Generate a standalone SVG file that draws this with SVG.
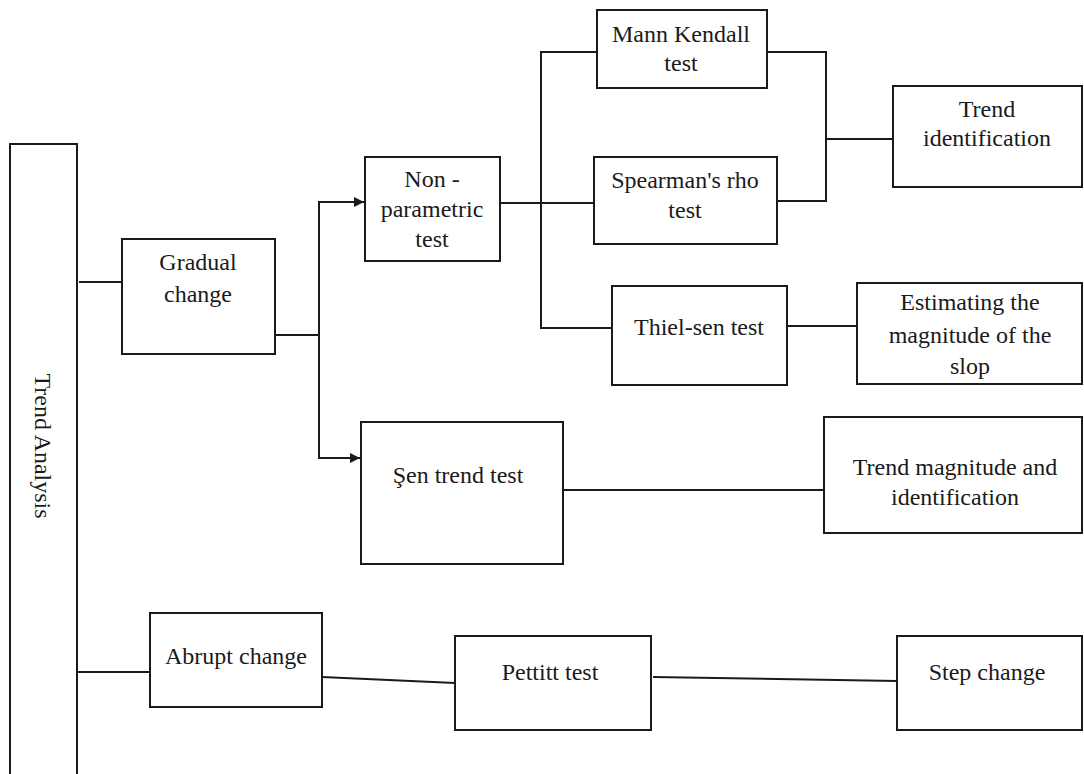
<svg xmlns="http://www.w3.org/2000/svg" width="1084" height="774" viewBox="0 0 1084 774">
<defs>
<style>
.box{fill:#fff;stroke:#1a1a1a;stroke-width:2}
.t{font-family:"Liberation Serif","Times New Roman",serif;font-size:24px;fill:#1a1a1a;text-anchor:middle}
.c{fill:none;stroke:#1a1a1a;stroke-width:2}
</style>
<marker id="arr" viewBox="0 0 10 10" refX="10" refY="5" markerWidth="5" markerHeight="5" orient="auto" markerUnits="strokeWidth">
<path d="M0,0 L10,5 L0,10 z" fill="#1a1a1a"/>
</marker>
</defs>
<rect width="1084" height="774" fill="#fff"/>
<g id="connectors">
<line class="c" x1="79" y1="282" x2="122" y2="282"/>
<line class="c" x1="77" y1="672" x2="150" y2="672"/>
<polyline class="c" points="275,335 319,335"/>
<polyline class="c" points="319,458 319,202 364,202" marker-end="url(#arr)"/>
<polyline class="c" points="319,335 319,458 360,458" marker-end="url(#arr)"/>
<line class="c" x1="500" y1="203" x2="594" y2="203"/>
<polyline class="c" points="597,52 541,52 541,328 612,328"/>
<polyline class="c" points="767,52 826,52 826,201 777,201"/>
<line class="c" x1="826" y1="139" x2="893" y2="139"/>
<line class="c" x1="787" y1="326" x2="857" y2="326"/>
<line class="c" x1="563" y1="490" x2="824" y2="490"/>
<line class="c" x1="322" y1="677" x2="455" y2="683"/>
<line class="c" x1="653" y1="677" x2="897" y2="681"/>
</g>
<g id="trend-analysis">
<rect class="box" x="10" y="144" width="67" height="640"/>
<text class="t" transform="translate(35,446) rotate(90)">Trend Analysis</text>
</g>
<g id="gradual-change">
<rect class="box" x="122" y="239" width="153" height="115"/>
<text class="t" x="198" y="270">Gradual</text>
<text class="t" x="198" y="302">change</text>
</g>
<g id="non-parametric">
<rect class="box" x="365" y="157" width="135" height="104"/>
<text class="t" x="432" y="187">Non -</text>
<text class="t" x="432" y="217">parametric</text>
<text class="t" x="432" y="247">test</text>
</g>
<g id="mann-kendall">
<rect class="box" x="597" y="10" width="170" height="78"/>
<text class="t" x="681" y="42">Mann Kendall</text>
<text class="t" x="681" y="71">test</text>
</g>
<g id="spearman">
<rect class="box" x="594" y="157" width="183" height="87"/>
<text class="t" x="685" y="188">Spearman's rho</text>
<text class="t" x="685" y="218">test</text>
</g>
<g id="trend-identification">
<rect class="box" x="893" y="86" width="189" height="101"/>
<text class="t" x="987" y="117">Trend</text>
<text class="t" x="987" y="146">identification</text>
</g>
<g id="thiel-sen">
<rect class="box" x="612" y="286" width="175" height="99"/>
<text class="t" x="699" y="335">Thiel-sen test</text>
</g>
<g id="estimating">
<rect class="box" x="857" y="283" width="225" height="101"/>
<text class="t" x="970" y="310">Estimating the</text>
<text class="t" x="970" y="343">magnitude of the</text>
<text class="t" x="970" y="374">slop</text>
</g>
<g id="sen-trend">
<rect class="box" x="361" y="422" width="202" height="142"/>
<text class="t" x="458" y="483">Şen trend test</text>
</g>
<g id="trend-magnitude">
<rect class="box" x="824" y="417" width="258" height="116"/>
<text class="t" x="955" y="475">Trend magnitude and</text>
<text class="t" x="955" y="505">identification</text>
</g>
<g id="abrupt-change">
<rect class="box" x="150" y="613" width="172" height="94"/>
<text class="t" x="236" y="664">Abrupt change</text>
</g>
<g id="pettitt">
<rect class="box" x="455" y="636" width="196" height="94"/>
<text class="t" x="550" y="680">Pettitt test</text>
</g>
<g id="step-change">
<rect class="box" x="897" y="636" width="185" height="94"/>
<text class="t" x="987" y="680">Step change</text>
</g>
</svg>
